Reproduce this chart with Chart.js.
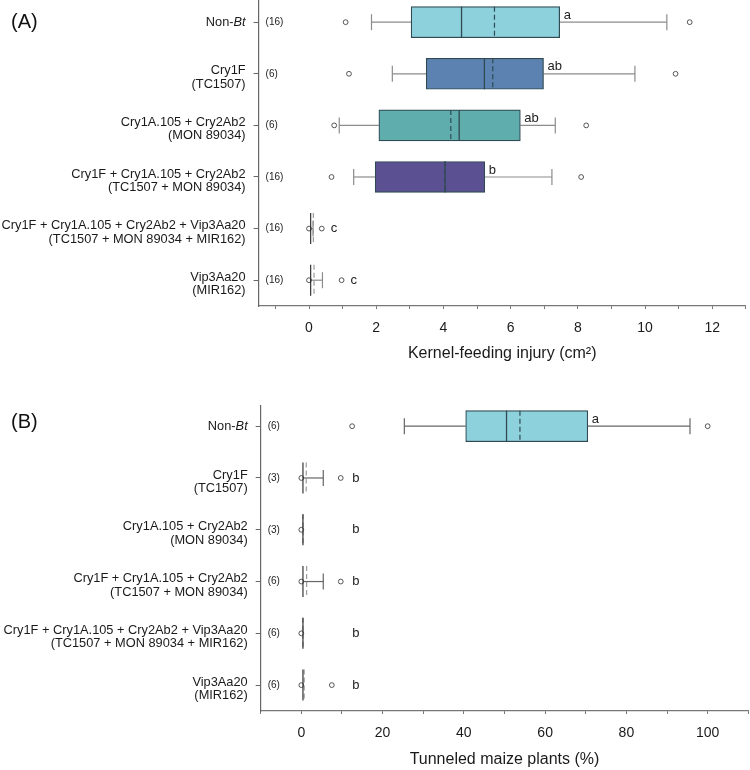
<!DOCTYPE html>
<html><head><meta charset="utf-8">
<script src="https://cdn.jsdelivr.net/npm/chart.js@4.4.1/dist/chart.umd.min.js"></script>
<style>
html,body{margin:0;padding:0;background:#fff;}
canvas{position:absolute;left:0;}
#ca{top:0;} #cb{top:385px;}
</style></head>
<body>
<canvas id="ca" width="750" height="385"></canvas>
<canvas id="cb" width="750" height="385"></canvas>
<script>
// ---------- data ----------
const categories = [
  ["Non-*Bt*"],
  ["Cry1F", "(TC1507)"],
  ["Cry1A.105 + Cry2Ab2", "(MON 89034)"],
  ["Cry1F + Cry1A.105 + Cry2Ab2", "(TC1507 + MON 89034)"],
  ["Cry1F + Cry1A.105 + Cry2Ab2 + Vip3Aa20", "(TC1507 + MON 89034 + MIR162)"],
  ["Vip3Aa20", "(MIR162)"]
];

// Panel A: kernel-feeding injury (cm2)
const aN       = [16, 6, 6, 16, 16, 16];
const aWhLo    = [1.86, 2.48, 0.90, 1.33, 0.05, 0.05];
const aQ1      = [3.04, 3.49, 2.08, 1.97, 0.05, 0.05];
const aMedian  = [4.54, 5.22, 4.47, 4.05, 0.05, 0.05];
const aQ3      = [7.46, 6.98, 6.29, 5.23, 0.05, 0.05];
const aWhHi    = [10.65, 9.70, 7.33, 7.23, 0.12, 0.40];
const aMean    = [5.52, 5.47, 4.22, 4.05, 0.13, 0.15];
const aOutLo   = [1.09, 1.19, 0.75, 0.67, 0.0, 0.0];
const aOutHi   = [11.33, 10.91, 8.25, 8.10, 0.38, 0.97];
const aLetters = ["a", "ab", "ab", "b", "c", "c"];
const aTicks   = [-1,0,1,2,3,4,5,6,7,8,9,10,11,12,13];

// Panel B: tunneled maize plants (%)
const bN       = [6, 3, 3, 6, 6, 6];
const bWhLo    = [25.35, 0.4, 0.4, 0.4, 0.4, 0.4];
const bQ1      = [40.45, 0.4, 0.4, 0.4, 0.4, 0.4];
const bMedian  = [50.5, 0.4, 0.4, 0.4, 0.4, 0.4];
const bQ3      = [70.5, 0.4, 0.4, 0.4, 0.4, 0.4];
const bWhHi    = [95.65, 5.4, 0.4, 5.4, 0.4, 0.4];
const bMean    = [53.8, 1.2, 0.4, 1.3, 0.4, 0.7];
const bOutLo   = [12.5, 0, 0, 0, 0, 0];
const bOutHi   = [100, 9.7, null, 9.7, null, 7.5];
const bLetters = ["a", "b", "b", "b", "b", "b"];
const bTicks   = [-10,0,10,20,30,40,50,60,70,80,90,100,110];

// ---------- styling ----------
const FONT = "'Liberation Sans', Arial, Helvetica, sans-serif";
const BOX_EDGE = '#2f4a52';
const colorsA = ['#8dd1dc', '#5b82b0', '#5fadad', '#5b5092', '#8dd1dc', '#8dd1dc'];
const colorsB = ['#8dd1dc', '#8dd1dc', '#8dd1dc', '#8dd1dc', '#8dd1dc', '#8dd1dc'];

function drawRich(ctx, text, xRight, y, size) {
  const parts = text.split('*');
  let total = 0;
  const fonts = parts.map((p, k) => (k % 2 ? 'italic ' : '') + size + 'px ' + FONT);
  parts.forEach((p, k) => { ctx.font = fonts[k]; total += ctx.measureText(p).width; });
  let x = xRight - total;
  ctx.textAlign = 'left';
  parts.forEach((p, k) => { ctx.font = fonts[k]; ctx.fillText(p, x, y); x += ctx.measureText(p).width; });
}

function makePlugin(d) {
  return {
    id: 'boxExtras' + d.tag,
    beforeDatasetsDraw(chart) {
      const {ctx, scales: {x, y}} = chart;
      ctx.save();
      ctx.strokeStyle = d.whiskerColor;
      ctx.lineWidth = 1.2;
      for (let i = 0; i < d.q1.length; i++) {
        const c = y.getPixelForValue(i);
        const seg = (a, b) => {
          const pa = x.getPixelForValue(a), pb = x.getPixelForValue(b);
          ctx.beginPath(); ctx.moveTo(pa, c); ctx.lineTo(pb, c); ctx.stroke();
          ctx.beginPath(); ctx.moveTo(pb, c - 8); ctx.lineTo(pb, c + 8); ctx.stroke();
        };
        if (d.whHi[i] > d.q3[i]) seg(d.q3[i], d.whHi[i]);
        if (d.whLo[i] < d.q1[i]) seg(d.q1[i], d.whLo[i]);
      }
      ctx.restore();
    },
    afterDatasetsDraw(chart) {
      const {ctx, scales: {x, y}, chartArea} = chart;
      ctx.save();
      const half = 15.5;
      for (let i = 0; i < d.q1.length; i++) {
        const c = y.getPixelForValue(i);
        const boxW = x.getPixelForValue(d.q3[i]) - x.getPixelForValue(d.q1[i]);
        // mean (dashed)
        if (d.mean[i] != null) {
          const pm = x.getPixelForValue(d.mean[i]);
          ctx.strokeStyle = boxW > 4 ? BOX_EDGE : '#9a9a9a';
          ctx.lineWidth = 1.2;
          ctx.setLineDash([5, 3]);
          ctx.beginPath(); ctx.moveTo(pm, c - half); ctx.lineTo(pm, c + half); ctx.stroke();
          ctx.setLineDash([]);
        }
        // median (solid)
        const pmed = x.getPixelForValue(d.median[i]);
        ctx.strokeStyle = boxW > 4 ? BOX_EDGE : '#222';
        ctx.lineWidth = boxW > 4 ? 1.3 : 1.1;
        ctx.beginPath(); ctx.moveTo(pmed, c - half); ctx.lineTo(pmed, c + half); ctx.stroke();

        // n labels
        ctx.fillStyle = '#222';
        ctx.font = '10px ' + FONT;
        ctx.textAlign = 'left'; ctx.textBaseline = 'middle';
        ctx.fillText('(' + d.n[i] + ')', chartArea.left + 7, c);

        // letters
        ctx.font = '13px ' + FONT;
        if (boxW > 4) {
          ctx.fillText(d.letters[i], x.getPixelForValue(d.q3[i]) + 4, c - 7);
        } else {
          const pts = [d.whHi[i], d.outHi[i], d.outLo[i]].filter(v => v != null);
          let lx = Math.max(...pts.map(v => x.getPixelForValue(v))) + 9;
          if (d.letterMin != null) lx = Math.max(lx, x.getPixelForValue(d.letterMin));
          ctx.fillText(d.letters[i], lx, c);
        }
      }
      // category labels
      ctx.fillStyle = '#1a1a1a';
      ctx.textBaseline = 'middle';
      for (let i = 0; i < categories.length; i++) {
        const c = y.getPixelForValue(i);
        const lines = categories[i];
        if (lines.length === 1) {
          drawRich(ctx, lines[0], chartArea.left - 13, c + 0.5, 12.8);
        } else {
          drawRich(ctx, lines[0], chartArea.left - 13, c - 3, 12.8);
          drawRich(ctx, lines[1], chartArea.left - 13, c + 10.5, 12.8);
        }
      }
      // panel label
      ctx.font = '20px ' + FONT;
      ctx.fillStyle = '#111';
      ctx.textAlign = 'left';
      ctx.fillText(d.panel, 11, d.panelY);
      ctx.restore();
    }
  };
}

function buildChart(canvasId, d) {
  const boxData = d.q1.map((v, i) => ({x: [v, d.q3[i]], y: i}));
  const pts = [];
  d.outLo.forEach((v, i) => { if (v != null) pts.push({x: v, y: i}); });
  d.outHi.forEach((v, i) => { if (v != null) pts.push({x: v, y: i}); });
  return new Chart(document.getElementById(canvasId), {
    type: 'bar',
    data: {
      datasets: [
        {
          type: 'bar', indexAxis: 'y', data: boxData,
          backgroundColor: d.colors, borderColor: BOX_EDGE, borderWidth: 1.2,
          borderSkipped: false, barThickness: 31, order: 2
        },
        {
          type: 'scatter', data: pts, showLine: false, clip: false,
          pointRadius: 2.4, pointBackgroundColor: '#fff', pointBorderColor: '#444',
          pointBorderWidth: 0.9, order: 1
        }
      ]
    },
    options: {
      responsive: false, animation: false, events: [],
      layout: {autoPadding: false, padding: {left: 0, right: d.padRight, top: d.padTop, bottom: 0}},
      plugins: {legend: {display: false}, tooltip: {enabled: false}},
      scales: {
        x: {
          type: 'linear', position: 'bottom', min: d.xmin, max: d.xmax, offset: false,
          afterBuildTicks: s => { s.ticks = d.ticks.map(v => ({value: v})); },
          afterFit: s => { s.height = d.xHeight; s.paddingLeft = 0; s.paddingRight = 0; s.paddingTop = 0; s.paddingBottom = 0; },
          ticks: {
            autoSkip: false, maxRotation: 0, padding: d.tickPad, color: '#1a1a1a',
            font: {family: FONT, size: 14},
            callback: v => (v >= 0 && v % d.labelStep === 0) ? String(v) : ''
          },
          grid: {offset: false, drawOnChartArea: false, drawTicks: true, tickLength: 3, color: '#777', tickWidth: 1},
          border: {color: '#777', width: 1.2},
          title: {display: true, text: d.title, color: '#1a1a1a',
                  font: {family: FONT, size: 16}, padding: {top: 0, bottom: d.titlePad}}
        },
        y: {
          type: 'linear', position: 'left', reverse: true, min: d.ymin, max: 5.5, offset: false,
          afterBuildTicks: s => { s.ticks = [0,1,2,3,4,5].map(v => ({value: v})); },
          afterFit: s => { s.width = d.yWidth; s.paddingLeft = 0; s.paddingRight = 0; s.paddingTop = 0; s.paddingBottom = 0; },
          ticks: {display: false},
          grid: {offset: false, drawOnChartArea: false, drawTicks: true, tickLength: 5, color: '#666'},
          border: {color: '#666', width: 1.2}
        }
      }
    },
    plugins: [makePlugin(d)]
  });
}

buildChart('ca', {
  tag: 'A', panel: '(A)', panelY: 22,
  n: aN, whLo: aWhLo, q1: aQ1, median: aMedian, q3: aQ3, whHi: aWhHi, mean: aMean,
  outLo: aOutLo, outHi: aOutHi, letters: aLetters, ticks: aTicks, colors: colorsA,
  whiskerColor: '#8c8c8c', letterMin: null,
  xmin: -1.5, xmax: 13, labelStep: 2, ymin: -0.43,
  padRight: 4.2, padTop: 0, xHeight: 79, yWidth: 258.6, titlePad: 22, tickPad: 10.5,
  title: 'Kernel-feeding injury (cm\u00B2)'
});

buildChart('cb', {
  tag: 'B', panel: '(B)', panelY: 37.5,
  n: bN, whLo: bWhLo, q1: bQ1, median: bMedian, q3: bQ3, whHi: bWhHi, mean: bMean,
  outLo: bOutLo, outHi: bOutHi, letters: bLetters, ticks: bTicks, colors: colorsB,
  whiskerColor: '#666', letterMin: 12.5,
  xmin: -10, xmax: 110, labelStep: 20, ymin: -0.39,
  padRight: 1.7, padTop: 21, xHeight: 59, yWidth: 260.7, titlePad: 1, tickPad: 11,
  title: 'Tunneled maize plants (%)'
});
</script>
</body></html>
